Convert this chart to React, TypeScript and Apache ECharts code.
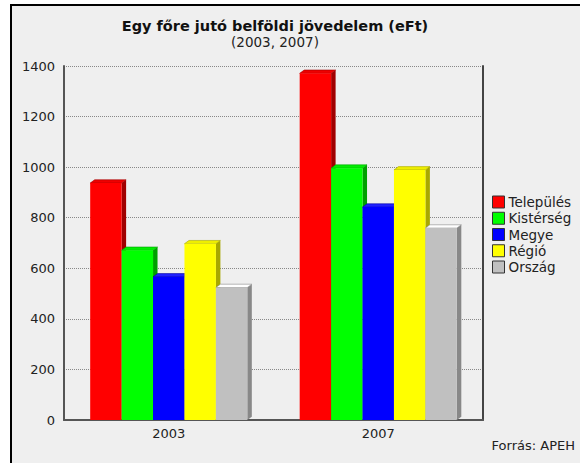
import React, { useEffect, useRef } from "react";
import * as echarts from "echarts";

const categories = ["2003", "2007"];
const seriesNames = ["Település", "Kistérség", "Megye", "Régió", "Ország"];
const telepules = [937, 1371];
const kisterseg = [671, 996];
const megye = [566, 842];
const regio = [697, 989];
const orszag = [524, 759];
const seriesValues = [telepules, kisterseg, megye, regio, orszag];
const frontColors = ["#ff0000", "#00ff00", "#0000ff", "#ffff00", "#c0c0c0"];
const sideColors = ["#a00000", "#00a000", "#0000a0", "#a8a800", "#888888"];
const topColors = ["#ee0000", "#00ee00", "#2020ff", "#eeee00", "#ffffff"];

const FONT = "DejaVu Sans";

export default function App() {
  const ref = useRef<HTMLDivElement>(null);
  useEffect(() => {
    const chart = echarts.init(ref.current!, null, { renderer: "svg" });
    const dx = 4.5;
    const dy = 3.3;
    const series = seriesNames.map((name, si) => ({
      name,
      type: "custom",
      yAxisIndex: 0,
      itemStyle: { color: frontColors[si], borderColor: "#333", borderWidth: 1 },
      data: categories.map((_, ci) => [ci, seriesValues[si][ci]]),
      renderItem: (params: any, api: any) => {
        const ci = api.value(0);
        const v = api.value(1);
        const base = api.coord([ci, 0]);
        const top = api.coord([ci, v]);
        const band = api.size([1, 0])[0];
        const bw = band * 0.15;
        const x0 = base[0] - 2.5 * bw + params.seriesIndex * bw;
        const yT = top[1];
        const yB = base[1];
        return {
          type: "group",
          children: [
            {
              type: "polygon",
              shape: {
                points: [
                  [x0 + bw, yT],
                  [x0 + bw + dx, yT - dy],
                  [x0 + bw + dx, yB - dy],
                  [x0 + bw, yB],
                ],
              },
              style: { fill: sideColors[si] },
            },
            {
              type: "polygon",
              shape: {
                points: [
                  [x0, yT],
                  [x0 + dx, yT - dy],
                  [x0 + bw + dx, yT - dy],
                  [x0 + bw, yT],
                ],
              },
              style: { fill: topColors[si], stroke: sideColors[si], lineWidth: 0.6 },
            },
            {
              type: "rect",
              shape: { x: x0, y: yT, width: bw, height: yB - yT },
              style: { fill: frontColors[si] },
            },
          ],
        };
      },
    }));

    chart.setOption({
      animation: false,
      backgroundColor: "#ffffff",
      graphic: [
        {
          type: "rect",
          z: -10,
          shape: { x: 11, y: 5, width: 620, height: 520 },
          style: { fill: "#efefef", stroke: "#000000", lineWidth: 2 },
          silent: true,
        },
        {
          type: "text",
          right: 5,
          top: 439,
          style: { text: "Forrás: APEH", font: `13px "${FONT}"`, fill: "#222" },
        },
      ],
      title: {
        text: "Egy főre jutó belföldi jövedelem (eFt)",
        subtext: "(2003, 2007)",
        left: 270,
        textAlign: "center",
        top: 13,
        itemGap: 2,
        textStyle: { fontFamily: FONT, fontSize: 14.5, fontWeight: "bold", color: "#111" },
        subtextStyle: { fontFamily: FONT, fontSize: 13.5, color: "#222" },
      },
      legend: {
        orient: "vertical",
        left: 492,
        top: 195,
        padding: 0,
        itemWidth: 12,
        itemHeight: 12,
        itemGap: 2.25,
        icon: "rect",
        data: seriesNames,
        textStyle: { fontFamily: FONT, fontSize: 13.5, color: "#222", padding: [0, 0, 0, -1] },
        itemStyle: { borderColor: "#333", borderWidth: 1 },
      },
      grid: { left: 64, right: 97, top: 66, bottom: 43, containLabel: false },
      xAxis: {
        type: "category",
        data: categories,
        axisLine: { lineStyle: { color: "#555", width: 2 } },
        axisTick: { show: false },
        axisLabel: { fontFamily: FONT, fontSize: 13, color: "#222", margin: 7 },
      },
      yAxis: [
        {
          type: "value",
          min: 0,
          max: 1400,
          interval: 200,
          axisLine: { show: true, lineStyle: { color: "#555", width: 2 } },
          axisTick: { show: false },
          axisLabel: {
            fontFamily: FONT,
            fontSize: 13,
            color: "#222",
            margin: 9,
            formatter: (v: number) => String(v),
          },
          splitLine: { show: true, lineStyle: { color: "#888", type: "dotted", width: 1 } },
        },
        {
          type: "value",
          min: 0,
          max: 1400,
          interval: 200,
          position: "right",
          axisLine: { show: true, lineStyle: { color: "#444", width: 2 } },
          axisTick: { show: false },
          axisLabel: { show: false },
          splitLine: { show: false },
        },
      ],
      series,
    });
    return () => chart.dispose();
  }, []);
  return (
    <div
      ref={ref}
      style={{ position: "fixed", left: 0, top: 0, width: 580, height: 463 }}
    />
  );
}
